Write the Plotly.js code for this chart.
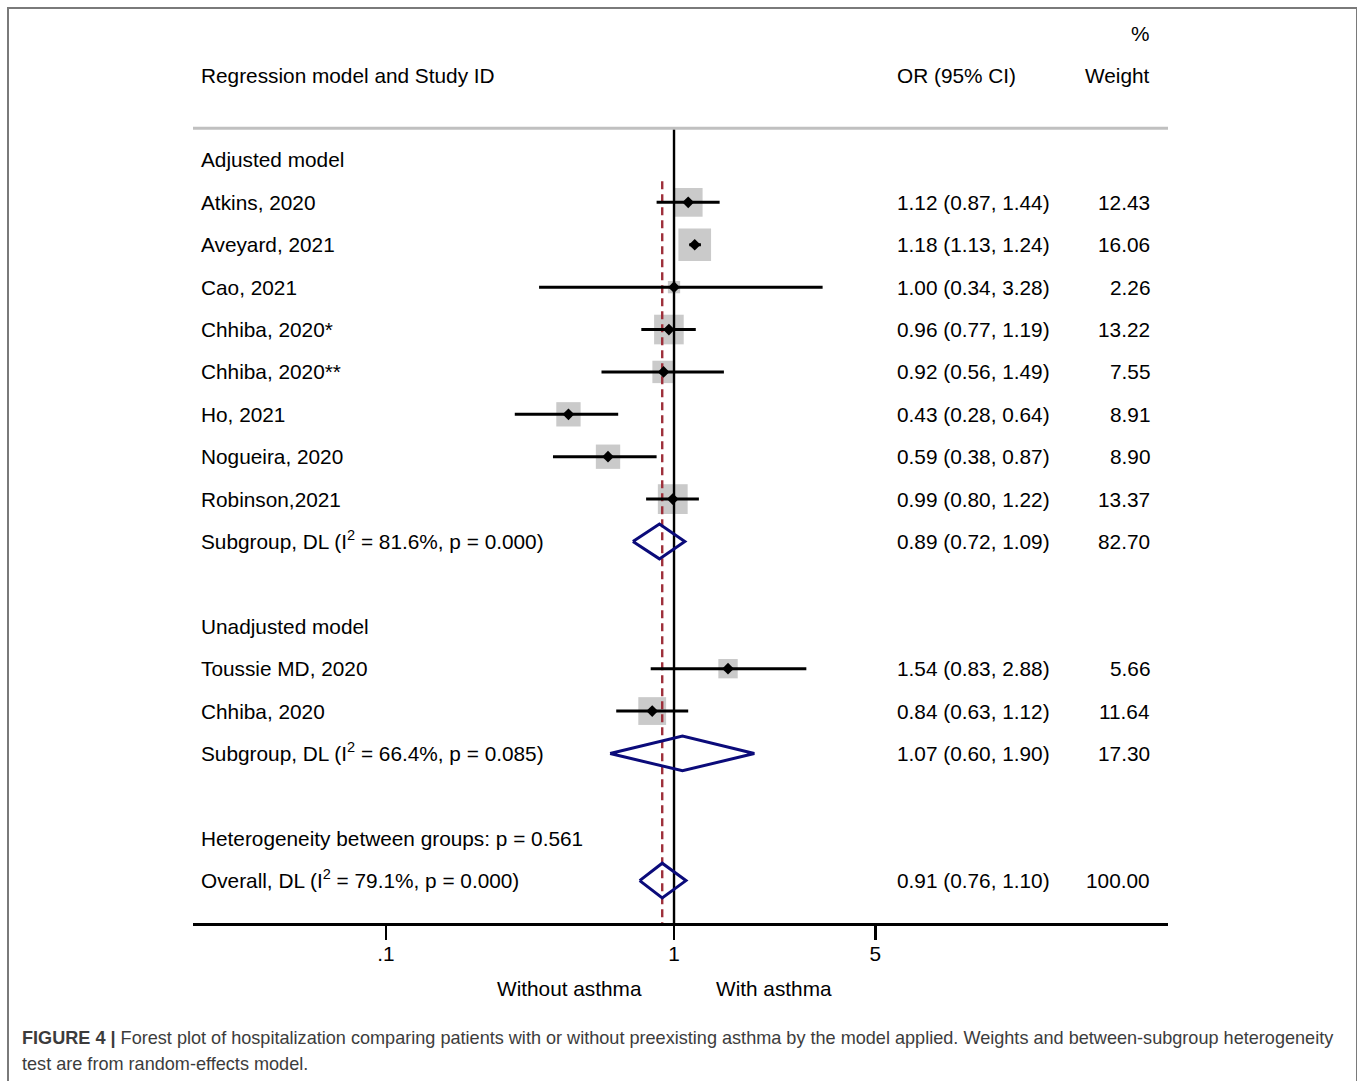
<!DOCTYPE html>
<html>
<head>
<meta charset="utf-8">
<script src="https://cdn.plot.ly/plotly-3.0.1.min.js"></script>
<style>
  html, body { margin: 0; padding: 0; background: #fff; }
  #chart { width: 1357px; height: 1081px; }
  #frame { position: absolute; left: 7px; top: 7px; width: 1347px; height: 1100px;
           border: 2px solid #7a7a7a; pointer-events: none; }
</style>
</head>
<body>
<div id="chart"></div>
<div id="frame"></div>
<script>
// ---- data ----
const adjStudies = ['Atkins, 2020', 'Aveyard, 2021', 'Cao, 2021', 'Chhiba, 2020*', 'Chhiba, 2020**', 'Ho, 2021', 'Nogueira, 2020', 'Robinson,2021'];
const adjOR  = [1.12, 1.18, 1.00, 0.96, 0.92, 0.43, 0.59, 0.99];
const adjLo  = [0.87, 1.13, 0.34, 0.77, 0.56, 0.28, 0.38, 0.80];
const adjHi  = [1.44, 1.24, 3.28, 1.19, 1.49, 0.64, 0.87, 1.22];
const adjW   = [12.43, 16.06, 2.26, 13.22, 7.55, 8.91, 8.90, 13.37];

const unadjStudies = ['Toussie MD, 2020', 'Chhiba, 2020'];
const unadjOR = [1.54, 0.84];
const unadjLo = [0.83, 0.63];
const unadjHi = [2.88, 1.12];
const unadjW  = [5.66, 11.64];

const pooledLabels = ['Subgroup, DL (I<sup>2</sup> = 81.6%, p = 0.000)', 'Subgroup, DL (I<sup>2</sup> = 66.4%, p = 0.085)', 'Overall, DL (I<sup>2</sup> = 79.1%, p = 0.000)'];
const pooledOR = [0.89, 1.07, 0.91];
const pooledLo = [0.72, 0.60, 0.76];
const pooledHi = [1.09, 1.90, 1.10];
const pooledW  = [82.70, 17.30, 100.00];

const groupLabels = ['Adjusted model', 'Unadjusted model'];
const hetLabel = 'Heterogeneity between groups: p = 0.561';
const tickVals = [0.1, 1, 5];
const tickText = ['.1', '1', '5'];

// ---- row layout ----
const adjRows = [1, 2, 3, 4, 5, 6, 7, 8];
const unadjRows = [12, 13];
const pooledRows = [9, 14, 17];
const groupRows = [0, 11];
const hetRow = 16;

const FONT = 'Liberation Sans, Arial, Helvetica, sans-serif';
const FS = 20.8;
const px2x = px => (px - 193) / 975;
const py2y = py => (923 - py) / 903;

const studyOR = adjOR.concat(unadjOR);
const studyLo = adjLo.concat(unadjLo);
const studyHi = adjHi.concat(unadjHi);
const studyW = adjW.concat(unadjW);
const studyRows = adjRows.concat(unadjRows);
const studyNames = adjStudies.concat(unadjStudies);

const fmt = (v) => v.toFixed(2);
const orText = (o, l, h) => `${fmt(o)} (${fmt(l)}, ${fmt(h)})`;

const traces = [];
// weight squares
traces.push({
  type: 'scatter', mode: 'markers', x: studyOR, y: studyRows, cliponaxis: false,
  marker: { symbol: 'square', color: '#b4b4b4', size: studyW.map(w => 8.15 * Math.sqrt(w)), line: { width: 0 } },
  hoverinfo: 'skip', showlegend: false
});
// null line
traces.push({
  type: 'scatter', mode: 'lines', x: [1, 1], y: [-0.75, 18],
  line: { color: '#000', width: 2.4 }, hoverinfo: 'skip', showlegend: false
});
// overall dashed line
traces.push({
  type: 'scatter', mode: 'lines', x: [pooledOR[2], pooledOR[2]], y: [0.5, 18],
  line: { color: '#9e2f3a', width: 2.4, dash: '8px,5px' }, hoverinfo: 'skip', showlegend: false
});
// CI lines
const ciX = [], ciY = [];
studyRows.forEach((r, i) => { ciX.push(studyLo[i], studyHi[i], null); ciY.push(r, r, null); });
traces.push({
  type: 'scatter', mode: 'lines', x: ciX, y: ciY,
  line: { color: '#000', width: 3 }, hoverinfo: 'skip', showlegend: false
});
// point estimates
traces.push({
  type: 'scatter', mode: 'markers', x: studyOR, y: studyRows,
  marker: { symbol: 'diamond', color: '#000', size: 9, line: { width: 0 } },
  hoverinfo: 'skip', showlegend: false
});
// pooled diamonds
const dX = [], dY = [];
pooledRows.forEach((r, i) => {
  dX.push(pooledLo[i], pooledOR[i], pooledHi[i], pooledOR[i], pooledLo[i], null);
  dY.push(r, r - 0.41, r, r + 0.41, r, null);
});
traces.push({
  type: 'scatter', mode: 'lines', x: dX, y: dY,
  line: { color: '#0b0b7a', width: 3 }, hoverinfo: 'skip', showlegend: false
});

// ---- annotations ----
const ann = [];
const txt = (text, x, y, xanchor, extra = {}) => Object.assign({
  text, x, y, xref: 'paper', yref: 'y', xanchor, yanchor: 'middle', showarrow: false,
  font: { family: FONT, size: FS, color: '#000' }
}, extra);

const LEFT = px2x(199), ORX = px2x(895), WX = px2x(1152);
ann.push(txt('%', WX, -2.99, 'right'));
ann.push(txt('Regression model and Study ID', LEFT, -2.0, 'left'));
ann.push(txt('OR (95% CI)', ORX, -2.0, 'left'));
ann.push(txt('Weight', WX, -2.0, 'right'));
groupRows.forEach((r, i) => ann.push(txt(groupLabels[i], LEFT, r, 'left')));
studyRows.forEach((r, i) => {
  ann.push(txt(studyNames[i], LEFT, r, 'left'));
  ann.push(txt(orText(studyOR[i], studyLo[i], studyHi[i]), ORX, r, 'left'));
  ann.push(txt(fmt(studyW[i]), WX, r, 'right'));
});
pooledRows.forEach((r, i) => {
  ann.push(txt(pooledLabels[i], LEFT, r - 0.04, 'left'));
  ann.push(txt(orText(pooledOR[i], pooledLo[i], pooledHi[i]), ORX, r, 'left'));
  ann.push(txt(fmt(pooledW[i]), WX, r, 'right'));
});
ann.push(txt(hetLabel, LEFT, hetRow, 'left'));
// favours labels
ann.push(txt('Without asthma', px2x(644), py2y(988), 'right', { yref: 'paper' }));
ann.push(txt('With asthma', px2x(714), py2y(988), 'left', { yref: 'paper' }));
// caption
const capFont = { family: FONT, size: 18.1, color: '#3c3c3c' };
ann.push(txt('<b>FIGURE 4 |</b> Forest plot of hospitalization comparing patients with or without preexisting asthma by the model applied. Weights and between-subgroup heterogeneity',
  px2x(20), py2y(1038), 'left', { yref: 'paper', font: capFont }));
ann.push(txt('test are from random-effects model.', px2x(20), py2y(1064), 'left', { yref: 'paper', font: capFont }));

const shapes = [{
  type: 'line', xref: 'paper', yref: 'y', x0: 0, x1: 1, y0: -0.75, y1: -0.75,
  line: { color: '#c0c0c0', width: 3 }
}];

const layout = {
  width: 1357, height: 1081,
  margin: { l: 193, r: 189, t: 20, b: 158, pad: 0 },
  paper_bgcolor: '#fff', plot_bgcolor: '#fff',
  font: { family: FONT, size: FS, color: '#000' },
  showlegend: false,
  xaxis: {
    type: 'log', range: [-1.670, 1.715], tickvals: tickVals, ticktext: tickText,
    ticks: 'outside', ticklen: 14, tickwidth: 2.5, tickcolor: '#000', ticklabelstandoff: -3,
    showline: true, linewidth: 2.5, linecolor: '#000', showgrid: false, zeroline: false,
    tickfont: { family: FONT, size: FS, color: '#000' }, fixedrange: true
  },
  yaxis: {
    range: [18.0, -3.302], showticklabels: false, showline: false, showgrid: false,
    zeroline: false, ticks: '', fixedrange: true
  },
  annotations: ann,
  shapes: shapes
};

Plotly.newPlot('chart', traces, layout, { staticPlot: true, displayModeBar: false });
</script>
</body>
</html>
